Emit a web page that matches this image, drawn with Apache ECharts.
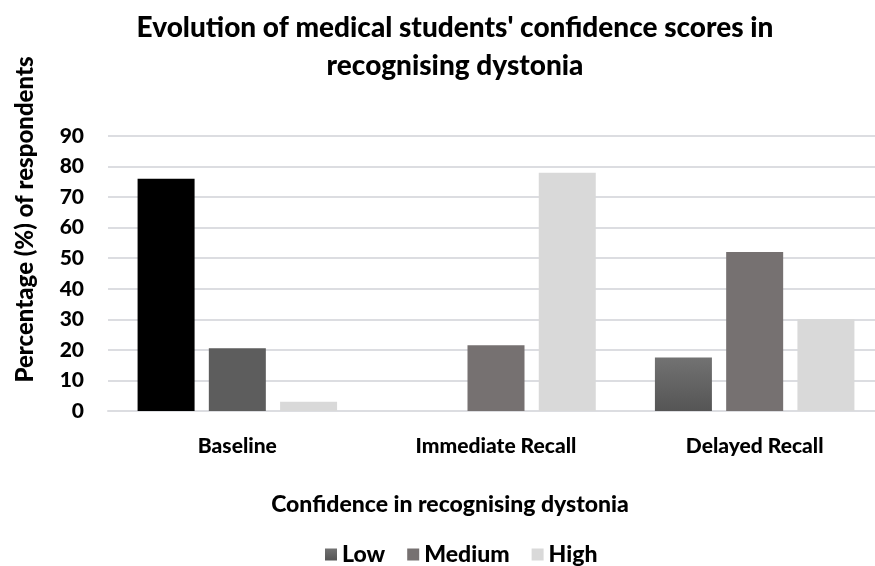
<!DOCTYPE html>
<html>
<head>
<meta charset="utf-8">
<script src="https://cdn.jsdelivr.net/npm/echarts@6/dist/echarts.min.js"></script>
<style>
  html, body { margin: 0; padding: 0; background: #fff; }
  #chart { width: 875px; height: 566px; }
</style>
</head>
<body>
<div id="chart"></div>
<script>
  // categories and series values
  var categories = ['Baseline', 'Immediate Recall', 'Delayed Recall'];
  var lowValues = [76, 0, 17.5];
  var mediumValues = [20.5, 21.5, 52];
  var highValues = [3, 78, 30];
  var yTicks = [0, 10, 20, 30, 40, 50, 60, 70, 80, 90];

  var font = 'Lato';
  var weight = 900;

  // Low: baseline bar is solid black, the rest a dark grey gradient
  var lowGradient = new echarts.graphic.LinearGradient(0, 0, 0, 1, [
    {offset: 0, color: '#727272'},
    {offset: 1, color: '#555555'}
  ]);

  function lowData() {
    return lowValues.map(function (v, i) {
      if (i === 0) return {value: v, itemStyle: {color: '#000000'}};
      return v;
    });
  }
  // Medium: baseline bar darker grey
  function mediumData() {
    return mediumValues.map(function (v, i) {
      if (i === 0) return {value: v, itemStyle: {color: '#5d5d5d'}};
      return v;
    });
  }

  var myChart = echarts.init(document.getElementById('chart'));
  var option = {
    backgroundColor: '#ffffff',
    animation: false,
    title: {
      text: "Evolution of medical students' confidence scores in\nrecognising dystonia",
      left: 450,
      textAlign: 'center',
      top: 4,
      textStyle: {fontFamily: font, fontWeight: weight, fontSize: 28, lineHeight: 38, color: '#000'}
    },
    legend: {
      bottom: 0,
      left: 320,
      padding: [5, 5, 0, 5],
      itemWidth: 12,
      itemHeight: 12,
      itemGap: 22,
      icon: 'rect',
      textStyle: {fontFamily: font, fontWeight: weight, fontSize: 23, color: '#000'},
      data: ['Low', 'Medium', 'High']
    },
    grid: {left: 108, top: 136, right: -9, bottom: 155, containLabel: false, outerBoundsMode: 'none'},
    xAxis: {
      type: 'category',
      data: categories,
      name: 'Confidence in recognising dystonia',
      nameLocation: 'middle',
      nameGap: 82,
      nameTextStyle: {fontFamily: font, fontWeight: weight, fontSize: 23, color: '#000', padding: [0, 92, 0, 0]},
      axisLine: {lineStyle: {color: '#dcdde1', width: 2}},
      axisTick: {show: false},
      axisLabel: {fontFamily: font, fontWeight: weight, fontSize: 21, color: '#000', margin: 25}
    },
    yAxis: {
      type: 'value',
      min: yTicks[0],
      max: yTicks[yTicks.length - 1],
      interval: 10,
      name: 'Percentage (%) of respondents',
      nameLocation: 'middle',
      nameGap: 71,
      nameTextStyle: {fontFamily: font, fontWeight: weight, fontSize: 24, color: '#000', padding: [0, 0, 0, 108]},
      axisLine: {show: false},
      axisTick: {show: false},
      axisLabel: {fontFamily: font, fontWeight: weight, fontSize: 21, color: '#000', margin: 24},
      splitLine: {lineStyle: {color: '#dcdde1', width: 2}}
    },
    series: [
      {
        name: 'Low', type: 'bar', barWidth: 57, barGap: '25%',
        itemStyle: {color: lowGradient},
        data: lowData()
      },
      {
        name: 'Medium', type: 'bar', barWidth: 57, barGap: '25%',
        itemStyle: {color: '#767171'},
        data: mediumData()
      },
      {
        name: 'High', type: 'bar', barWidth: 57, barGap: '25%',
        itemStyle: {color: '#d9d9d9'},
        data: highValues
      }
    ]
  };
  myChart.setOption(option);
</script>
</body>
</html>
